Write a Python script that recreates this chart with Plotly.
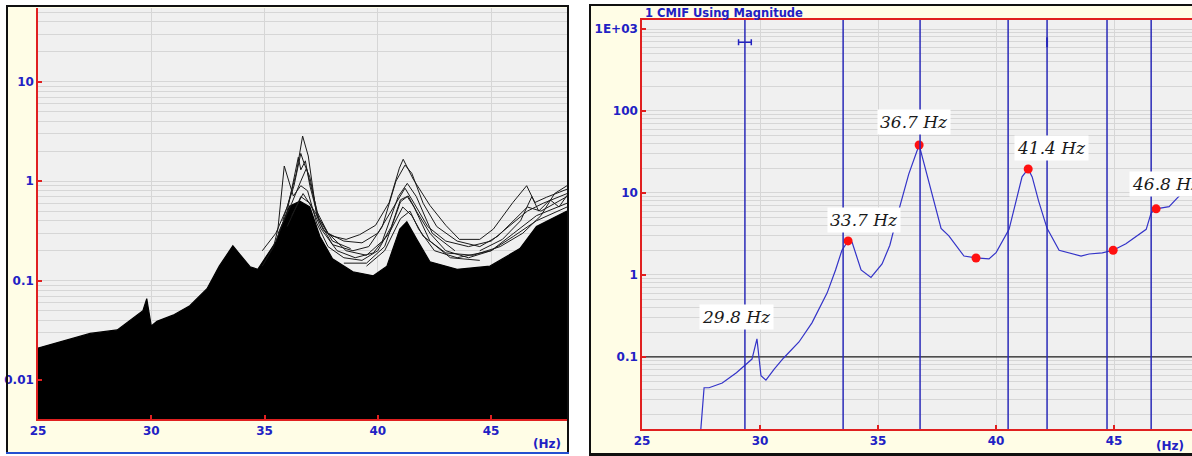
import math
import plotly.graph_objects as go

W, H = 1192, 456
def px(x): return x / W
def py(y): return 1 - y / H

# ---------------- Left panel data (FRF bundle) ----------------
env_freq = [25.0, 26.1, 27.3, 28.5, 29.2, 29.63, 29.8, 30.0, 30.25, 30.96, 31.7, 32.46, 33.0, 33.6,
            34.36, 34.7, 35.24, 35.5, 36.1, 36.56, 37.0, 37.44, 38.0, 38.9, 39.8, 40.4, 40.97, 41.28,
            41.72, 42.3, 43.5, 44.95, 46.27, 47.0, 48.35]
env_val = [0.021, 0.0245, 0.0295, 0.032, 0.042, 0.05, 0.066, 0.035, 0.039, 0.045, 0.056, 0.083, 0.14, 0.224,
           0.138, 0.13, 0.20, 0.245, 0.56, 0.63, 0.55, 0.28, 0.166, 0.123, 0.112, 0.14, 0.33, 0.39,
           0.26, 0.155, 0.13, 0.14, 0.21, 0.35, 0.5]
floor_val = 0.001

l1_freq = [34.9, 35.5, 36.0, 36.4, 36.68, 36.93, 37.3, 37.6, 38.0, 38.6, 39.2, 39.9, 40.5, 40.95, 41.12,
           41.56, 42.3, 43.0, 43.6, 44.5, 45.1, 45.96, 46.57, 46.93, 47.45, 48.35]
l1_val = [0.20, 0.30, 0.55, 1.2, 2.84, 1.79, 0.45, 0.32, 0.28, 0.26, 0.29, 0.36, 0.61, 1.35, 1.66,
          1.05, 0.57, 0.36, 0.26, 0.26, 0.33, 0.61, 0.9, 0.61, 0.69, 0.83]
l2_freq = [34.9, 35.4, 35.59, 35.87, 36.27, 36.6, 36.9, 37.3, 37.8, 38.5, 39.3, 40.0, 40.6, 41.0, 41.34,
           41.7, 42.3, 43.0, 44.0, 45.0, 46.0, 47.0, 48.35]
l2_val = [0.14, 0.22, 0.33, 1.42, 0.71, 0.9, 0.8, 0.38, 0.22, 0.17, 0.16, 0.2, 0.35, 0.65, 0.71,
          0.5, 0.3, 0.2, 0.17, 0.2, 0.3, 0.45, 0.6]
l3_freq = [35.5, 36.0, 36.49, 36.6, 36.8, 37.0, 37.4, 38.0, 38.9, 39.6, 40.2, 40.8, 41.2, 41.5, 42.0,
           42.6, 43.5, 44.5, 45.3, 46.2, 46.6, 47.2, 48.35]
l3_val = [0.25, 0.5, 1.74, 1.3, 1.6, 0.9, 0.4, 0.23, 0.2, 0.22, 0.35, 1.0, 1.45, 1.2, 0.6,
          0.35, 0.25, 0.22, 0.28, 0.45, 0.55, 0.5, 0.7]
l4_freq = [39.5, 40.3, 41.0, 41.42, 41.8, 42.5, 43.5, 45.0, 46.0, 47.0, 48.35]
l4_val = [0.14, 0.2, 0.42, 0.5, 0.33, 0.2, 0.17, 0.2, 0.28, 0.4, 0.55]
l5_freq = [35.8, 36.3, 36.6, 36.75, 37.0, 37.3, 37.8, 38.6, 39.5, 40.2, 40.9, 41.3, 41.7, 42.4, 43.4]
l5_val = [0.4, 0.9, 1.9, 1.5, 1.1, 0.5, 0.3, 0.2, 0.18, 0.25, 0.7, 0.95, 0.7, 0.3, 0.2]
l6_freq = [36.2, 36.7, 37.2, 37.8, 38.5, 39.3, 40.0, 40.6, 41.2, 41.6, 42.2, 43.0, 44.0, 45.0, 45.8,
           46.6, 47.3, 48.35]
l6_val = [0.45, 0.75, 0.5, 0.3, 0.25, 0.24, 0.3, 0.5, 0.85, 0.6, 0.35, 0.25, 0.22, 0.25, 0.35,
          0.5, 0.6, 0.75]
l7_freq = [36.0, 36.6, 37.0, 37.5, 38.2, 39.0, 39.8, 40.5, 41.1, 41.5, 42.0, 43.0, 44.2, 45.4, 46.4,
           47.2, 47.8, 48.35]
l7_val = [0.35, 0.7, 0.6, 0.33, 0.2, 0.17, 0.19, 0.3, 0.55, 0.45, 0.28, 0.19, 0.18, 0.22, 0.3,
          0.45, 0.75, 0.9]
l8_freq = [44.5, 45.5, 46.3, 46.8, 47.1, 47.6, 48.0, 48.35]
l8_val = [0.2, 0.26, 0.4, 0.7, 0.5, 0.65, 0.55, 0.72]
l9_freq = [38.5, 39.5, 40.3, 41.0, 41.3, 41.6, 42.3, 43.2, 44.5]
l9_val = [0.15, 0.15, 0.22, 0.62, 0.7, 0.55, 0.25, 0.17, 0.16]
l10_freq = [35.6, 36.2, 36.6, 36.85, 37.1, 37.4, 38.0, 38.8]
l10_val = [0.3, 0.6, 1.0, 1.35, 0.8, 0.42, 0.25, 0.21]
bundle_lines = [(l1_freq, l1_val), (l2_freq, l2_val), (l3_freq, l3_val), (l4_freq, l4_val),
                (l5_freq, l5_val), (l6_freq, l6_val), (l7_freq, l7_val), (l8_freq, l8_val),
                (l9_freq, l9_val), (l10_freq, l10_val)]

# ---------------- Right panel data (CMIF) ----------------
cmif_freq = [27.46, 27.63, 27.84, 28.4, 29.0, 29.4, 29.66, 29.87, 30.04, 30.25, 30.6, 31.0, 31.65, 32.2,
             32.84, 33.2, 33.47, 33.73, 33.9, 34.28, 34.7, 35.17, 35.5, 35.9, 36.3, 36.74, 36.95, 37.3,
             37.67, 38.0, 38.64, 39.15, 39.7, 40.0, 40.34, 40.55, 41.1, 41.36, 41.53, 41.8, 42.16,
             42.67, 43.6, 43.94, 44.5, 44.96, 45.5, 46.36, 46.57, 46.78, 47.33, 47.88, 48.35]
cmif_val = [0.01, 0.042, 0.042, 0.048, 0.064, 0.082, 0.094, 0.166, 0.059, 0.052, 0.071, 0.097, 0.152, 0.26,
            0.6, 1.15, 2.0, 2.6, 2.5, 1.15, 0.93, 1.36, 2.3, 6.5, 17, 38.5, 23, 9.5,
            3.7, 3.0, 1.7, 1.61, 1.57, 1.87, 2.75, 3.6, 15.7, 19.6, 15.7, 8, 3.7,
            2.0, 1.7, 1.8, 1.86, 2.0, 2.4, 3.6, 5.7, 6.4, 6.8, 10, 13]
pick_freq = [33.73, 36.74, 39.15, 41.36, 44.96, 46.78]
pick_val = [2.6, 38.5, 1.61, 19.6, 2.0, 6.4]
band_freq = [29.36, 33.52, 36.78, 40.51, 42.16, 44.70, 46.57]
ref_level = [0.1, 0.1]
ref_freq = [25, 48.3]
label_text = ["29.8 Hz", "33.7 Hz", "36.7 Hz", "41.4 Hz", "46.8 Hz"]
label_freq = [27.42, 32.84, 34.96, 40.76, 45.64]
label_val = [0.31, 4.7, 73.5, 35.4, 12.9]
cursor_freq = [29.36]
cursor_val = [690]
cursor_half = [0.27]
tick_freq = [42.16]
tick_val = [690]

freq_ticks = [25, 30, 35, 40, 45]
left_yticks = [0.01, 0.1, 1, 10]
left_ytext = ["0.01", "0.1", "1", "10"]
right_yticks = [0.1, 1, 10, 100, 1000]
right_ytext = ["0.1", "1", "10", "100", "1E+03"]

YELLOW = "#FFFDE6"
PLOTBG = "#F0F0F0"
GRID = "#D6D6D6"
BLUE = "#2121C4"
TICKFONT = dict(family="DejaVu Sans", size=12, color=BLUE, weight="bold")

minor_grid = [m * 10 ** e for e in range(-4, 5) for m in range(2, 10)]

fig = go.Figure()

# left bundle
fig.add_trace(go.Scatter(x=env_freq, y=[floor_val] * len(env_freq), mode="lines",
                         line=dict(color="black", width=0), xaxis="x", yaxis="y", hoverinfo="skip"))
fig.add_trace(go.Scatter(x=env_freq, y=env_val, mode="lines", fill="tonexty", fillcolor="black",
                         line=dict(color="black", width=1.2), xaxis="x", yaxis="y"))
for f, v in bundle_lines:
    fig.add_trace(go.Scatter(x=f, y=v, mode="lines", line=dict(color="#1a1a1a", width=1),
                             xaxis="x", yaxis="y"))

# right CMIF
fig.add_trace(go.Scatter(x=ref_freq, y=ref_level, mode="lines", line=dict(color="#202020", width=1.2),
                         xaxis="x2", yaxis="y2"))
fig.add_trace(go.Scatter(x=cmif_freq, y=cmif_val, mode="lines", line=dict(color="#3333C8", width=1.2),
                         xaxis="x2", yaxis="y2"))
fig.add_trace(go.Scatter(x=pick_freq, y=pick_val, mode="markers",
                         marker=dict(color="#FF1010", size=9, symbol="circle"),
                         xaxis="x2", yaxis="y2"))
fig.add_trace(go.Scatter(x=cursor_freq, y=cursor_val, mode="markers",
                         marker=dict(size=0.1, color="#2222C0"),
                         error_x=dict(type="data", array=cursor_half, color="#2222C0", thickness=1.5, width=3),
                         xaxis="x2", yaxis="y2"))
fig.add_trace(go.Scatter(x=tick_freq, y=tick_val, mode="markers",
                         marker=dict(symbol="line-ns", size=7, line=dict(color="#2222C0", width=2)),
                         xaxis="x2", yaxis="y2"))

shapes = []
shapes.append(dict(type="rect", xref="paper", yref="paper", x0=px(7), x1=px(568), y0=py(453), y1=py(6),
                   fillcolor=YELLOW, line=dict(width=0), layer="below"))
shapes.append(dict(type="rect", xref="paper", yref="paper", x0=px(590), x1=px(1200), y0=py(455), y1=py(5),
                   fillcolor=YELLOW, line=dict(width=0), layer="below"))
shapes.append(dict(type="rect", xref="x domain", yref="y domain", x0=0, x1=1, y0=0, y1=1,
                   fillcolor=PLOTBG, line=dict(width=0), layer="below"))
shapes.append(dict(type="rect", xref="x2 domain", yref="y2 domain", x0=0, x1=1, y0=0, y1=1,
                   fillcolor=PLOTBG, line=dict(width=0), layer="below"))
for b in band_freq:
    shapes.append(dict(type="line", xref="x2", yref="y2 domain", x0=b, x1=b, y0=0, y1=1,
                       line=dict(color="#2A2AB8", width=1.5), layer="above"))
def seg(x0, y0, x1, y1, color, w):
    shapes.append(dict(type="line", xref="paper", yref="paper", x0=px(x0), x1=px(x1), y0=py(y0), y1=py(y1),
                       line=dict(color=color, width=w), layer="above"))
seg(7, 5, 7, 454, "#101010", 2)
seg(6, 6, 569, 6, "#101010", 2)
seg(568, 5, 568, 454, "#101010", 2)
seg(6, 453, 569, 453, "#2450D0", 2)
seg(590, 4, 590, 456, "#101010", 2)
seg(589, 5, 1192, 5, "#101010", 2)
seg(589, 454.5, 1192, 454.5, "#101010", 3)

annotations = []
for t, f, v in zip(label_text, label_freq, label_val):
    annotations.append(dict(x=f, y=math.log10(v), xref="x2", yref="y2", yanchor="middle", xanchor="left",
                            text=t, showarrow=False, bgcolor="white", borderpad=2,
                            font=dict(family="DejaVu Serif", size=17, style="italic", color="#1a1a1a")))
annotations.append(dict(x=px(643), y=py(13), xref="paper", yref="paper", xanchor="left", yanchor="middle",
                        text="1 CMIF Using Magnitude", showarrow=False,
                        font=dict(family="DejaVu Sans", size=11.5, color=BLUE, weight="bold")))
annotations.append(dict(x=px(547), y=py(444), xref="paper", yref="paper", xanchor="center", yanchor="middle",
                        text="(Hz)", showarrow=False, font=TICKFONT))
annotations.append(dict(x=px(1170), y=py(446), xref="paper", yref="paper", xanchor="center", yanchor="middle",
                        text="(Hz)", showarrow=False, font=TICKFONT))

common_x = dict(showline=True, linecolor="#E02020", linewidth=1.5, ticks="inside", ticklen=4,
                tickcolor="#E02020", tickwidth=1.5, tickvals=freq_ticks, ticktext=[str(t) for t in freq_ticks],
                showgrid=True, gridcolor=GRID, gridwidth=1, zeroline=False, tickfont=TICKFONT,
                automargin=False)
common_y = dict(type="log", showline=True, linecolor="#E02020", linewidth=1.5, ticks="inside", ticklen=4,
                tickcolor="#E02020", tickwidth=1.5, showgrid=True, gridcolor=GRID, gridwidth=1,
                zeroline=False, tickfont=TICKFONT, automargin=False,
                minor=dict(tickmode="array", tickvals=minor_grid, showgrid=True, gridcolor=GRID,
                           gridwidth=1, ticks=""))

fig.update_layout(
    width=W, height=H, margin=dict(l=0, r=0, t=0, b=0, autoexpand=False),
    paper_bgcolor="white", plot_bgcolor="rgba(0,0,0,0)", showlegend=False,
    xaxis=dict(domain=[px(38), px(567)], anchor="y", range=[25, 48.35], **common_x),
    yaxis=dict(domain=[py(419), py(8)], anchor="x", range=[-2.39, 1.74],
               tickvals=left_yticks, ticktext=left_ytext, **common_y),
    xaxis2=dict(domain=[px(642), 1.0], anchor="y2", range=[25, 48.3], mirror=True, **common_x),
    yaxis2=dict(domain=[py(429), py(20)], anchor="x2", range=[-1.88, 3.11],
                tickvals=right_yticks, ticktext=right_ytext, **common_y),
    shapes=shapes, annotations=annotations,
)

fig.write_html("out.html", config={"displayModeBar": False},
               post_script="document.body.style.margin='0';document.body.style.overflow='hidden';")
